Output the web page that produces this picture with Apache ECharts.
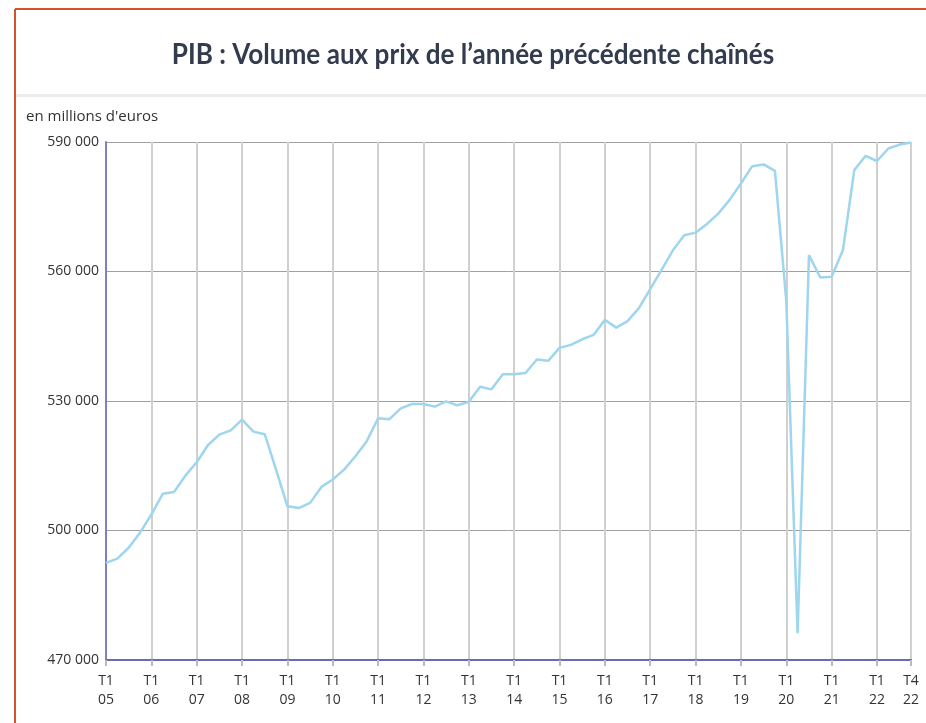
<!DOCTYPE html>
<html>
<head>
<meta charset="utf-8">
<title>PIB volume chaîné</title>
<script src="https://cdn.jsdelivr.net/npm/echarts@6/dist/echarts.min.js"></script>
<style>
  html, body { margin: 0; padding: 0; background: #fff; }
  #chart { width: 926px; height: 723px; }
</style>
</head>
<body>
<div id="chart"></div>
<script>
// trimestres T1 2005 -> T4 2022
var years = ['05','06','07','08','09','10','11','12','13','14','15','16','17','18','19','20','21','22'];
var quarters = ['T1','T2','T3','T4'];

// PIB en millions d'euros
var pib = [
  492500, 493500, 496000, 499500,  // 2005
  503700, 508500, 508900, 512700,  // 2006
  515800, 519800, 522200, 523200,  // 2007
  525700, 522900, 522300, 514100,  // 2008
  505600, 505200, 506400, 510100,  // 2009
  511800, 514100, 517200, 520700,  // 2010
  526000, 525800, 528300, 529300,  // 2011
  529300, 528700, 529900, 529000,  // 2012
  529800, 533300, 532700, 536200,  // 2013
  536200, 536500, 539600, 539300,  // 2014
  542300, 543000, 544300, 545300,  // 2015
  548800, 547000, 548500, 551500,  // 2016
  555900, 560400, 564900, 568400,  // 2017
  569000, 571000, 573400, 576600,  // 2018
  580400, 584400, 584800, 583300,  // 2019
  553200, 476200, 563800, 558600,  // 2020
  558800, 565000, 583500, 586800,  // 2021
  585600, 588500, 589400, 589900   // 2022
];

var yTicks = [470000, 500000, 530000, 560000, 590000];

var categories = [];
years.forEach(function (y) {
  quarters.forEach(function (q) { categories.push(q + '\n' + y); });
});
var last = categories.length - 1;
function shown(i) { return i % 4 === 0 || i === last; }

var chart = echarts.init(document.getElementById('chart'));
chart.setOption({
  animation: false,
  graphic: [
    // cadre orange
    { type: 'line', shape: { x1: 15, y1: 9, x2: 926, y2: 9 }, style: { stroke: '#d4532c', lineWidth: 2 } },
    { type: 'line', shape: { x1: 15, y1: 9, x2: 15, y2: 723 }, style: { stroke: '#d4532c', lineWidth: 2 } },
    // titre
    {
      type: 'text', x: 473, y: 55, scaleX: 0.9,
      style: {
        text: 'PIB : Volume aux prix de l\u2019année précédente chaînés',
        font: 'bold 29px Lato',
        fill: '#333c4e',
        align: 'center',
        verticalAlign: 'middle'
      }
    },
    // séparateur sous le titre
    { type: 'rect', shape: { x: 16, y: 94, width: 910, height: 3 }, style: { fill: '#ececec' } },
    { type: 'text', left: 26, top: 109, style: { text: 'en millions d\'euros', font: '15px "Open Sans"', fill: '#333' } }
  ],
  grid: { left: 106, right: 15, top: 142, bottom: 63 },
  xAxis: {
    type: 'category',
    data: categories,
    boundaryGap: false,
    axisLine: { lineStyle: { color: '#6a6ab4', width: 2 } },
    axisTick: { interval: function (i) { return shown(i); }, length: 6, lineStyle: { color: '#bbb', width: 2 } },
    axisLabel: {
      interval: function (i) { return shown(i); },
      color: '#333',
      fontFamily: 'Open Sans',
      fontSize: 14,
      lineHeight: 19,
      margin: 12
    },
    splitLine: { show: true, interval: function (i) { return shown(i); }, lineStyle: { color: '#d0d0d0', width: 2 } }
  },
  yAxis: {
    type: 'value',
    min: yTicks[0],
    max: yTicks[yTicks.length - 1],
    interval: 30000,
    axisLine: { show: true, lineStyle: { color: '#8080c0', width: 2 } },
    axisTick: { show: false },
    axisLabel: {
      color: '#333',
      fontFamily: 'Open Sans',
      fontSize: 14,
      margin: 7,
      formatter: function (v) { return String(v).replace(/\B(?=(\d{3})+(?!\d))/g, ' '); }
    },
    splitLine: { lineStyle: { color: '#a0a0a0', width: 1 } }
  },
  series: [{
    type: 'line',
    data: pib,
    symbol: 'none',
    lineStyle: { color: '#9dd6ee', width: 2.5 },
    z: 3
  }]
});
</script>
</body>
</html>
